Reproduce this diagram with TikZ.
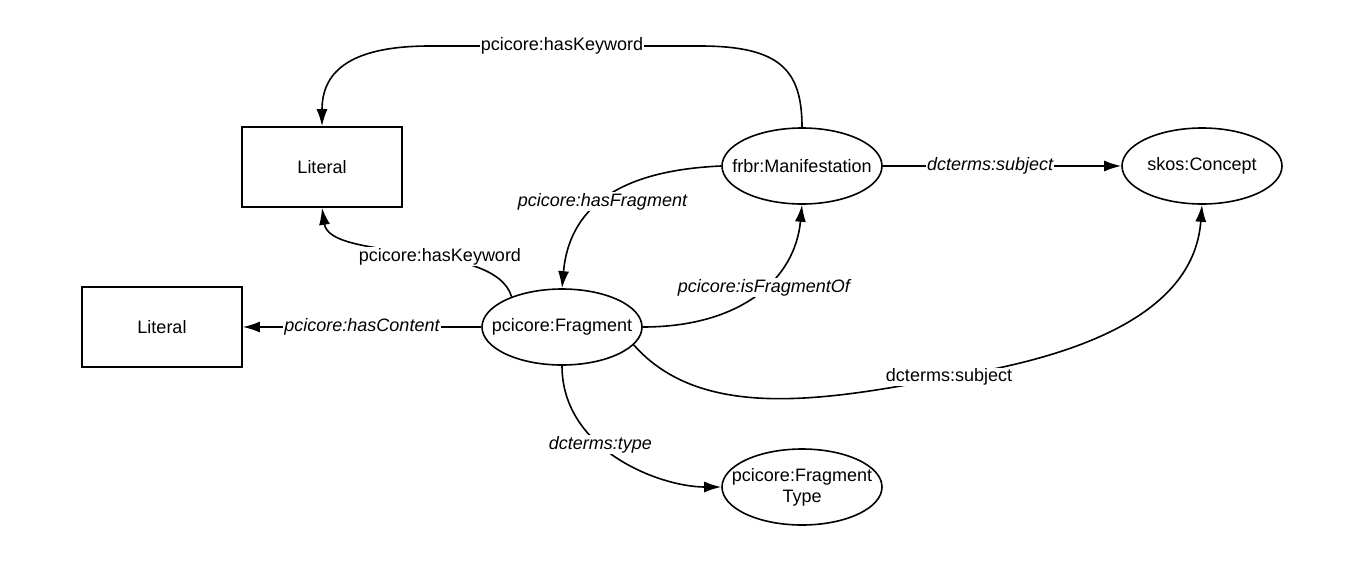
\documentclass[tikz,border=0pt]{standalone}
\usepackage{fontspec}
\setmainfont{Liberation Sans}
\usetikzlibrary{arrows.meta,shapes.geometric}
\newcommand{\zw}[1]{\makebox[0pt]{#1}}
\begin{document}
\begin{tikzpicture}[x=1pt,y=-1pt,
  font=\fontsize{18}{21}\selectfont,
  cls/.style={ellipse,draw,line width=1.6pt,minimum width=160pt,minimum height=76pt,inner sep=0pt,align=center},
  lit/.style={rectangle,draw,line width=1.6pt,minimum width=160pt,minimum height=80pt,inner sep=0pt},
  edge/.style={line width=1.6pt,-{Latex[length=17pt,width=11pt]}},
  lbl/.style={fill=white,inner sep=1pt},
  ilbl/.style={fill=white,inner sep=1pt,font=\fontsize{18}{21}\selectfont\itshape}]
\useasboundingbox[fill=white] (0,0) rectangle (1364,573);
\node[lit] (L1) at (322,167) {Literal};
\node[lit] (L2) at (162,327) {Literal};
\node[cls] (M) at (802,166) {\zw{frbr:Manifestation}};
\node[cls] (S) at (1202,166) {\zw{skos:Concept}};
\node[cls] (F) at (562,327) {\zw{pcicore:Fragment}};
\node[cls] (T) at (802,487) {\zw{pcicore:Fragment}\\\zw{Type}};
\coordinate (k1) at (700,46);
\coordinate (k2) at (430,46);
\coordinate (ds) at (949,377);
% top hasKeyword
\draw[edge] (M.north) .. controls (802,70) and (780,46) .. (k1) -- (k2) .. controls (345,46) and (322,75) .. (L1.north);
\node[lbl] (lk1) at (562,46) {pcicore:hasKeyword};
% fragment hasKeyword
\draw[edge] (F.149) .. controls (495,240) and (330,262) .. (L1.south) node[lbl,pos=0.4] (lk2) {pcicore:hasKeyword};
% hasFragment
\draw[edge] (M.west) .. controls (630,170) and (570,200) .. (F.north) node[ilbl,pos=0.55] (lhf) {pcicore:hasFragment};
% isFragmentOf
\draw[edge] (F.east) .. controls (740,327) and (795,280) .. (M.south) node[ilbl,pos=0.55] (lif) {pcicore:isFragmentOf};
% dcterms:subject straight
\draw[edge] (M.east) -- (S.west) node[ilbl,pos=0.45] (lds) {dcterms:subject};
% dcterms:subject curved
\draw[edge] (F.-14) .. controls (700,420) and (820,402) .. (ds) .. controls (1110,352) and (1195,300) .. (S.south);
\node[lbl] (lds2) at (ds) {dcterms:subject};
% dcterms:type
\draw[edge] (F.south) .. controls (562,450) and (660,487) .. (T.west) node[ilbl,pos=0.4] (ldt) {dcterms:type};
% hasContent
\draw[edge] (F.west) -- (L2.east) node[ilbl,midway] (lhc) {pcicore:hasContent};
\end{tikzpicture}
\end{document}
